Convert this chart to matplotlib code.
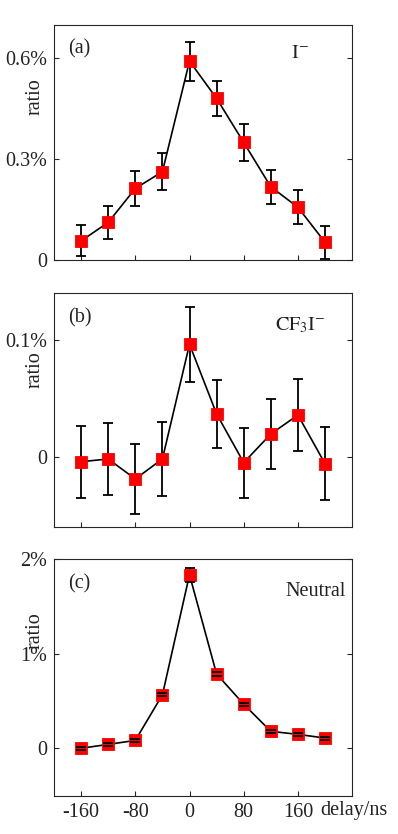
import matplotlib
matplotlib.use("Agg")
import matplotlib.pyplot as plt

plt.rcParams['font.family'] = ['Liberation Serif', 'DejaVu Serif']
plt.rcParams['mathtext.fontset'] = 'stix'

delay = [-160, -120, -80, -40, 0, 40, 80, 120, 160, 200]

ion_I = [0.057, 0.112, 0.213, 0.263, 0.592, 0.481, 0.350, 0.218, 0.157, 0.053]
ion_I_err = [0.046, 0.050, 0.053, 0.055, 0.058, 0.053, 0.056, 0.050, 0.051, 0.049]

ion_CF3I = [-0.0043, -0.002, -0.0191, -0.002, 0.0963, 0.0366, -0.0051, 0.0194, 0.0357, -0.006]
ion_CF3I_err = [0.0307, 0.0306, 0.030, 0.032, 0.032, 0.029, 0.030, 0.030, 0.031, 0.031]

neutral = [0.002, 0.043, 0.085, 0.567, 1.837, 0.787, 0.468, 0.181, 0.149, 0.110]
neutral_err = [0.016, 0.016, 0.016, 0.016, 0.075, 0.018, 0.018, 0.016, 0.016, 0.016]

xticks = [-160, -80, 0, 80, 160]
xticklabels = ['-160', '-80', '0', '80', '160']

FS = 14.5

panels = [
    dict(y=ion_I, e=ion_I_err, ylim=(0, 0.7), yticks=[0, 0.3, 0.6],
         yticklabels=['0', '0.3%', '0.6%'], tag='(a)', name=r'$\mathrm{I^{-}}$',
         name_x=0.795, name_y=0.877, pos=[0.1357, 0.6882, 0.749, 0.282], ylab_y=0.695),
    dict(y=ion_CF3I, e=ion_CF3I_err, ylim=(-0.06, 0.14), yticks=[0, 0.1],
         yticklabels=['0', '0.1%'], tag='(b)', name=r'$\mathrm{CF_3I^{-}}$',
         name_x=0.742, name_y=0.864, pos=[0.1357, 0.3685, 0.749, 0.2798], ylab_y=0.671),
    dict(y=neutral, e=neutral_err, ylim=(-0.5, 2.0), yticks=[0, 1, 2],
         yticklabels=['0', '1%', '2%'], tag='(c)', name='Neutral',
         name_x=0.775, name_y=0.863, pos=[0.1357, 0.0459, 0.749, 0.2834], ylab_y=0.70),
]

fig = plt.figure(figsize=(3.98, 8.34), dpi=100)
frame = '#262626'

for i, p in enumerate(panels):
    ax = fig.add_axes(p['pos'])
    ax.plot(delay, p['y'], color='black', lw=1.2, zorder=2)
    data_line, caplines, barcols = ax.errorbar(delay, p['y'], yerr=p['e'], fmt='none',
                                               ecolor='black', elinewidth=1.3,
                                               capsize=3.3, capthick=1.3)
    for c in barcols:
        c.set_zorder(1.5)
    for c in caplines:
        c.set_zorder(4)
    ax.plot(delay, p['y'], ls='none', marker='s', ms=8.3, mfc='#ff0000',
            mec='#ff0000', mew=0.6, zorder=3)
    ax.set_xlim(-200, 240)
    ax.set_ylim(*p['ylim'])
    ax.set_yticks(p['yticks'])
    ax.set_yticklabels(p['yticklabels'])
    ax.set_xticks(xticks)
    if i == 2:
        ax.set_xticklabels(xticklabels)
        ax.set_xlabel('delay/ns', fontsize=FS, ha='left', va='baseline', color='#222222')
        ax.xaxis.set_label_coords(0.893, -0.082)
    else:
        ax.set_xticklabels([])
    ax.tick_params(direction='in', length=3.5, width=0.8, colors=frame,
                   labelcolor='#222222', labelsize=FS, right=True, top=False, pad=5)
    for s in ax.spines.values():
        s.set_color(frame)
        s.set_linewidth(0.8)
    ax.set_ylabel('ratio', fontsize=FS, color='#222222', va='center')
    ax.yaxis.set_label_coords(-0.062, p['ylab_y'])
    ax.text(0.047, 0.896, p['tag'], transform=ax.transAxes, fontsize=FS,
            ha='left', va='center', color='#222222')
    ax.text(p['name_x'], p['name_y'], p['name'], transform=ax.transAxes, fontsize=FS,
            ha='left', va='center', color='#222222')

fig.savefig('out.png', dpi=100)
